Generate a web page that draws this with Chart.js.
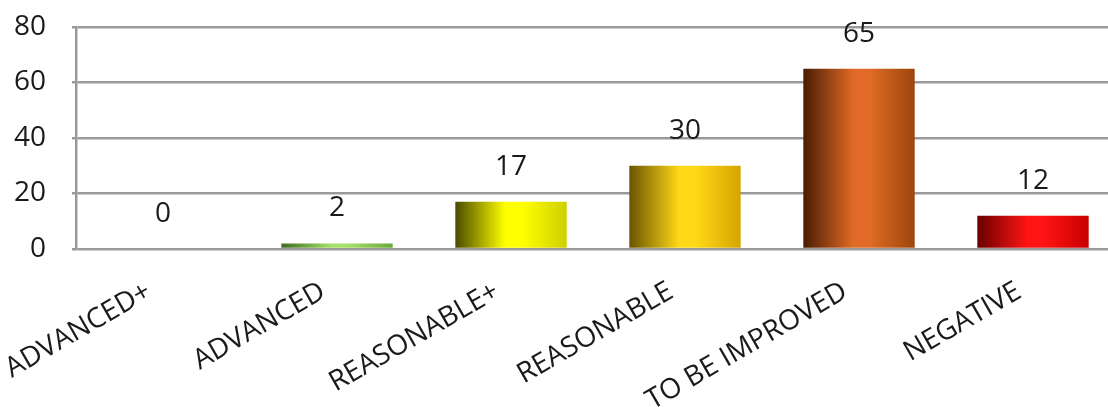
<!DOCTYPE html>
<html>
<head>
<meta charset="utf-8">
<script src="https://cdn.jsdelivr.net/npm/chart.js@4.4.1/dist/chart.umd.min.js"></script>
<style>
  html, body { margin: 0; padding: 0; background: #ffffff; overflow: hidden; }
  #wrap { position: relative; width: 1120px; height: 407px; }
</style>
</head>
<body>
<div id="wrap"><canvas id="c"></canvas></div>
<script>
const categories = ["ADVANCED+", "ADVANCED", "REASONABLE+", "REASONABLE", "TO BE IMPROVED", "NEGATIVE"];
const values = [0, 2, 17, 30, 65, 12];
const yTicks = [0, 20, 40, 60, 80];

// gradient stops per bar: [left, light, right]
const barShades = [
  ["#3d6b22", "#a6e068", "#6aa83a"],
  ["#3d6b22", "#a6e068", "#6aa83a"],
  ["#4a4a00", "#ffff00", "#cfcf00"],
  ["#6a5400", "#ffd818", "#d4a400"],
  ["#4a1c02", "#e06a26", "#9c460c"],
  ["#6a0000", "#ff1414", "#c80000"]
];

function barFill(ctx) {
  const chart = ctx.chart;
  const s = barShades[ctx.dataIndex] || barShades[0];
  const xs = chart.scales && chart.scales.x;
  if (!xs || !chart.chartArea) return s[1];
  const cx = xs.getPixelForValue(ctx.dataIndex);
  const catW = (xs.right - xs.left) / categories.length;
  const w = catW * 0.64;
  const g = chart.ctx.createLinearGradient(cx - w / 2, 0, cx + w / 2, 0);
  g.addColorStop(0, s[0]);
  g.addColorStop(0.45, s[1]);
  g.addColorStop(0.6, s[1]);
  g.addColorStop(1, s[2]);
  return g;
}

const valueLabels = {
  id: 'valueLabels',
  afterDatasetsDraw(chart) {
    const c = chart.ctx;
    const meta = chart.getDatasetMeta(0);
    c.save();
    c.font = '28px "Open Sans", sans-serif';
    c.fillStyle = '#1a1a1a';
    c.textAlign = 'center';
    c.textBaseline = 'middle';
    meta.data.forEach((el, i) => {
      c.fillText(String(values[i]), el.x, el.y - 35);
    });
    c.restore();
  }
};

new Chart(document.getElementById('c'), {
  type: 'bar',
  data: {
    labels: categories,
    datasets: [{
      data: values,
      backgroundColor: barFill,
      borderWidth: 0,
      barPercentage: 0.8,
      categoryPercentage: 0.8
    }]
  },
  options: {
    responsive: true,
    maintainAspectRatio: false,
    animation: false,
    layout: { padding: { top: 27, right: 0, left: 0, bottom: 0 } },
    plugins: { legend: { display: false }, tooltip: { enabled: false } },
    scales: {
      x: {
        grid: { display: false, drawTicks: false },
        border: { display: false },
        ticks: {
          color: '#1a1a1a',
          font: { family: '"Open Sans", sans-serif', size: 28 },
          maxRotation: 30,
          minRotation: 30,
          padding: 26,
          labelOffset: -14
        },
        afterFit(scale) { scale.height = 158; scale.paddingLeft = 0; scale.paddingRight = 0; }
      },
      y: {
        min: 0,
        max: 80,
        afterBuildTicks(scale) { scale.ticks = yTicks.map(v => ({ value: v })); },
        grid: { color: '#999999', lineWidth: 2.5, tickLength: 4, drawTicks: true },
        border: { display: true, color: '#999999', width: 2.5 },
        ticks: {
          color: '#1a1a1a',
          font: { family: '"Open Sans", sans-serif', size: 28 },
          padding: 26
        },
        afterFit(scale) { scale.width = 76; scale.paddingTop = 0; scale.paddingBottom = 0; }
      }
    }
  },
  plugins: [valueLabels]
});
</script>
</body>
</html>
